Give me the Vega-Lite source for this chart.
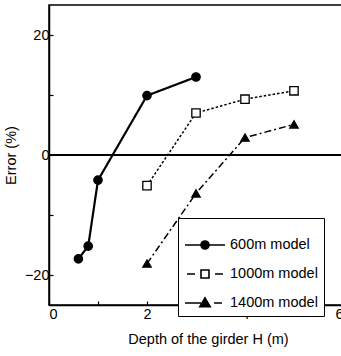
{
  "$schema": "https://vega.github.io/schema/vega-lite/v6.json",
  "autosize": "none",
  "width": 294,
  "height": 300,
  "padding": {"left": 49, "top": 5, "right": 0, "bottom": 51},
  "background": "white",
  "config": {
    "font": "Liberation Sans",
    "view": {"stroke": "black", "strokeWidth": 1.5},
    "axis": {
      "domainColor": "black",
      "domainWidth": 1.5,
      "tickColor": "black",
      "tickWidth": 1.2,
      "tickSize": -4,
      "labelColor": "black",
      "labelFont": "Liberation Sans",
      "labelFontSize": 14.5,
      "titleColor": "black",
      "titleFont": "Liberation Sans",
      "titleFontSize": 14.5,
      "titleFontWeight": "normal",
      "grid": false
    },
    "legend": {
      "orient": "none",
      "legendX": 129,
      "legendY": 213,
      "padding": 6,
      "strokeColor": "black",
      "fillColor": "white",
      "symbolSize": 1600,
      "symbolStrokeWidth": 1.6,
      "symbolStrokeColor": "black",
      "symbolOffset": 0,
      "labelOffset": 4,
      "labelFont": "Liberation Sans",
      "labelFontSize": 14.5,
      "labelColor": "black",
      "rowPadding": -12
    }
  },
  "data": {
    "values": [
      {"series": "600m model", "H": 0.6, "error": -17.3},
      {"series": "600m model", "H": 0.8, "error": -15.2},
      {"series": "600m model", "H": 1.0, "error": -4.2},
      {"series": "600m model", "H": 2.0, "error": 9.9},
      {"series": "600m model", "H": 3.0, "error": 13.0},
      {"series": "1000m model", "H": 2.0, "error": -5.1},
      {"series": "1000m model", "H": 3.0, "error": 7.0},
      {"series": "1000m model", "H": 4.0, "error": 9.3},
      {"series": "1000m model", "H": 5.0, "error": 10.7},
      {"series": "1400m model", "H": 2.0, "error": -18.1},
      {"series": "1400m model", "H": 3.0, "error": -6.4},
      {"series": "1400m model", "H": 4.0, "error": 2.9},
      {"series": "1400m model", "H": 5.0, "error": 5.1}
    ]
  },
  "layer": [
    {
      "mark": {"type": "rule", "color": "black", "strokeWidth": 1.2},
      "encoding": {
        "y": {"datum": 0, "type": "quantitative", "scale": {"domain": [-25, 25]}}
      }
    },
    {
      "mark": {
        "type": "line",
        "color": "black",
        "strokeDash": {"expr": "datum.series === '600m model' ? [1, 0] : datum.series === '1000m model' ? [2.5, 2] : [7, 3, 2, 3]"},
        "strokeWidth": {"expr": "datum.series === '600m model' ? 2.2 : 1.5"}
      },
      "encoding": {
        "x": {
          "field": "H", "type": "quantitative",
          "scale": {"domain": [0, 6], "nice": false},
          "title": "Depth of the girder H (m)",
          "axis": {
            "values": [0, 1, 2, 3, 4, 5, 6],
            "labelExpr": "datum.value % 2 === 0 ? datum.label : ''",
            "labelPadding": 6,
            "titlePadding": 12,
            "titleX": 159
          }
        },
        "y": {
          "field": "error", "type": "quantitative",
          "scale": {"domain": [-25, 25], "nice": false},
          "title": "Error (%)",
          "axis": {
            "values": [-20, -10, 0, 10, 20],
            "labelExpr": "datum.value % 20 === 0 ? datum.label : ''",
            "labelPadding": 4,
            "titlePadding": 6
          }
        },
        "detail": {"field": "series", "type": "nominal"}
      }
    },
    {
      "mark": {
        "type": "point",
        "stroke": "black",
        "strokeWidth": 1.3,
        "opacity": 1,
        "size": 70,
        "shape": {"expr": "datum.series === '600m model' ? 'circle' : datum.series === '1000m model' ? 'square' : 'triangle-up'"},
        "fill": {"expr": "datum.series === '1000m model' ? 'white' : 'black'"}
      },
      "encoding": {
        "x": {"field": "H", "type": "quantitative"},
        "y": {"field": "error", "type": "quantitative"}
      }
    },
    {
      "transform": [{"filter": "false"}],
      "mark": {"type": "point", "filled": true, "stroke": "black", "strokeWidth": 1.6, "opacity": 1, "size": 1600},
      "encoding": {
        "x": {"field": "H", "type": "quantitative"},
        "y": {"field": "error", "type": "quantitative"},
        "shape": {
          "field": "series", "type": "nominal",
          "scale": {
            "domain": ["600m model", "1000m model", "1400m model"],
            "range": [
              "M-1,0H1M0.2,0A0.2,0.2,0,1,1,-0.2,0A0.2,0.2,0,1,1,0.2,0Z",
              "M-0.9,0H-0.5M0.5,0H0.9M-0.2,-0.2H0.2V0.2H-0.2Z",
              "M-1,0H-0.2M0.45,0H0.85M0,-0.26L0.26,0.18H-0.26Z"
            ]
          },
          "legend": {"title": null}
        },
        "fill": {
          "field": "series", "type": "nominal",
          "scale": {
            "domain": ["600m model", "1000m model", "1400m model"],
            "range": ["black", "white", "black"]
          },
          "legend": {"title": null}
        },
        "stroke": {
          "field": "series", "type": "nominal",
          "scale": {
            "domain": ["600m model", "1000m model", "1400m model"],
            "range": ["black", "black", "black"]
          },
          "legend": {"title": null}
        }
      }
    }
  ]
}
